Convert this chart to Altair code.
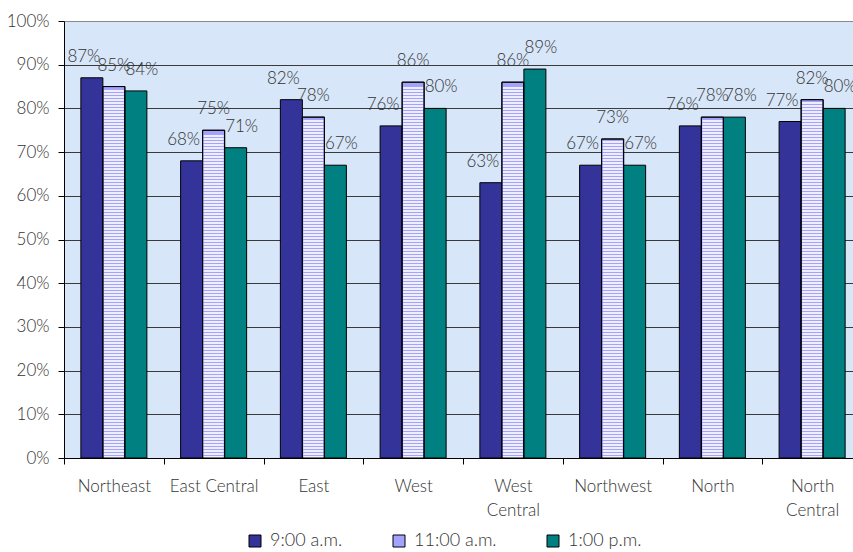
import altair as alt
import numpy as np
import pandas as pd

# Share of capacity in use, by region and time of day
regions = ["Northeast", "East Central", "East", "West", "West Central",
           "Northwest", "North", "North Central"]
times = ["9:00 a.m.", "11:00 a.m.", "1:00 p.m."]
at_9am = [87, 68, 82, 76, 63, 67, 76, 77]
at_11am = [85, 75, 78, 86, 86, 73, 78, 82]
at_1pm = [84, 71, 67, 80, 89, 67, 78, 80]
y_ticks = [0, 0.1, 0.2, 0.3, 0.4, 0.5, 0.6, 0.7, 0.8, 0.9, 1.0]

colors = ["#333399", "#a3a3ff", "#008080"]
text_color = "#333333"
font = "Lato"
weight = 300

PLOT_W = 789          # visible plot width
PLOT_H = 437
BAND_SPAN = 798       # the category bands run slightly past the right edge

rows = []
for t, vals in zip(times, [at_9am, at_11am, at_1pm]):
    for r, v in zip(regions, vals):
        rows.append({"region": r, "time": t, "share": v / 100})
df = pd.DataFrame(rows)

# light horizontal hatching laid over the 11:00 a.m. bars, one line every 3 px
hatch = []
for r, v in zip(regions, at_11am):
    top_px = v / 100 * PLOT_H
    k = 0
    while 3 * k + 3 < top_px - 1:
        hatch.append({"region": r, "time": times[1], "share": (3 * k + 1) / PLOT_H})
        k += 1
hatch_df = pd.DataFrame(hatch)

x_enc = alt.X(
    "region:N",
    sort=regions,
    scale=alt.Scale(domain=regions, range=[0, BAND_SPAN], paddingInner=0, paddingOuter=0),
    axis=alt.Axis(
        title=None, labelAngle=0, tickBand="extent", tickSize=6, tickColor="black",
        domainColor="black", labelFontSize=17, labelColor=text_color, labelFont=font,
        labelFontWeight=weight, labelPadding=14, labelLineHeight=24, grid=False,
        labelExpr="indexof(['West Central','North Central'], datum.label) >= 0 ? split(datum.label, ' ') : datum.label",
    ),
)
xo_enc = alt.XOffset(
    "time:N",
    sort=times,
    scale=alt.Scale(domain=times, paddingInner=0, paddingOuter=0.767),
)
y_enc = alt.Y(
    "share:Q",
    scale=alt.Scale(domain=[0, 1], nice=False),
    axis=alt.Axis(
        title=None, format=".0%", values=y_ticks, tickSize=6, tickColor="black",
        domainColor="black", labelFontSize=17, labelColor=text_color, labelFont=font,
        labelFontWeight=weight, labelPadding=9,
        gridColor=alt.condition("datum.value == 1", alt.value("#8a8a8a"), alt.value("#3a3a3a")),
        gridWidth=1,
    ),
)

bars = alt.Chart(df).mark_bar(stroke="black", strokeWidth=1).encode(
    x=x_enc,
    xOffset=xo_enc,
    y=y_enc,
    color=alt.Color(
        "time:N",
        sort=times,
        scale=alt.Scale(domain=times, range=colors),
        legend=alt.Legend(
            title=None, orient="none", legendX=182, legendY=511,
            direction="horizontal", symbolType="square", padding=0,
            symbolSize=144, symbolStrokeColor="black", symbolStrokeWidth=1,
            symbolOpacity=1, labelFontSize=18, labelColor=text_color, labelFont=font,
            labelFontWeight=weight, columnPadding=47, labelOffset=6,
        ),
    ),
)

stripes = alt.Chart(hatch_df).mark_tick(
    orient="horizontal", color="#eeeeff", thickness=2, size=20, opacity=1
).encode(x=alt.X("region:N", sort=regions), xOffset=alt.XOffset("time:N", sort=times),
         y="share:Q")

outline = alt.Chart(df).transform_filter(
    alt.datum.time == times[1]
).mark_bar(fillOpacity=0, stroke="black", strokeWidth=1).encode(
    x=alt.X("region:N", sort=regions), xOffset=alt.XOffset("time:N", sort=times), y="share:Q"
)

labels = []
for t, shift in zip(times, [-8, 0, 6]):
    labels.append(
        alt.Chart(df).transform_filter(alt.datum.time == t).mark_text(
            dx=shift, dy=-21, baseline="middle", align="center", fontSize=17,
            color=text_color, font=font, fontWeight=weight,
        ).encode(
            x=alt.X("region:N", sort=regions),
            xOffset=alt.XOffset("time:N", sort=times),
            y="share:Q",
            text=alt.Text("share:Q", format=".0%"),
        )
    )

chart = alt.layer(bars, stripes, outline, *labels).properties(
    width=PLOT_W,
    height=PLOT_H,
    autosize=alt.AutoSizeParams(type="none"),
    padding={"left": 64, "top": 21, "right": 0, "bottom": 94},
    background="white",
).configure_view(fill="#d7e6f8", stroke="transparent")

chart.save("out.html", embed_options={"renderer": "svg", "actions": False})
